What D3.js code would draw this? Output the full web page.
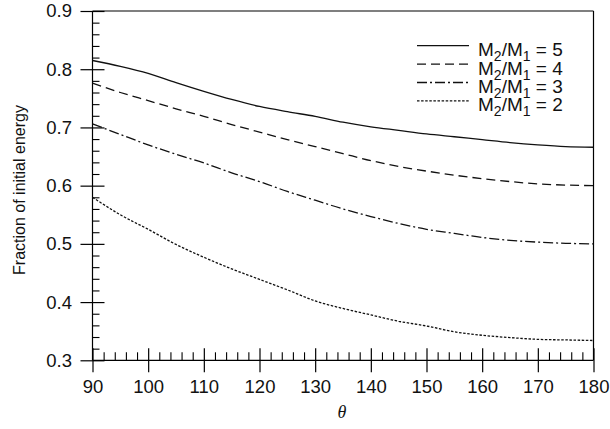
<!DOCTYPE html>
<html>
<head>
<meta charset="utf-8">
<script src="https://cdn.jsdelivr.net/npm/d3@7"></script>
<style>
  html, body { margin: 0; padding: 0; background: #fff; }
  svg { display: block; }
  text { font-family: "Liberation Sans", Arial, Helvetica, sans-serif; fill: #111; }
</style>
</head>
<body>
<svg id="chart" width="610" height="429"></svg>
<script>
// ---- data ----
const theta = [90, 95, 100, 105, 110, 115, 120, 125, 130, 135, 140, 145, 150, 155, 160, 165, 170, 175, 180];
const ratio5 = [0.815, 0.805, 0.793, 0.777, 0.762, 0.748, 0.736, 0.727, 0.719, 0.709, 0.701, 0.695, 0.689, 0.684, 0.679, 0.674, 0.670, 0.667, 0.666];
const ratio4 = [0.776, 0.760, 0.746, 0.732, 0.719, 0.705, 0.692, 0.679, 0.667, 0.655, 0.643, 0.633, 0.625, 0.618, 0.612, 0.607, 0.603, 0.601, 0.600];
const ratio3 = [0.706, 0.688, 0.670, 0.654, 0.639, 0.622, 0.607, 0.590, 0.575, 0.560, 0.547, 0.535, 0.525, 0.518, 0.511, 0.506, 0.503, 0.501, 0.500];
const ratio2 = [0.580, 0.550, 0.525, 0.499, 0.477, 0.457, 0.439, 0.421, 0.402, 0.389, 0.378, 0.367, 0.359, 0.349, 0.343, 0.339, 0.336, 0.335, 0.334];
const seriesNames = ["5", "4", "3", "2"];
const xTicks = [90, 100, 110, 120, 130, 140, 150, 160, 170, 180];
const yTicks = [0.3, 0.4, 0.5, 0.6, 0.7, 0.8, 0.9];
const xTitle = "θ";
const yTitle = "Fraction of initial energy";

// ---- layout ----
const svg = d3.select("#chart");
const L = 92.5, R = 593.5, T = 11, B = 360.3;
const x = d3.scaleLinear().domain([90, 180]).range([L, R]);
const y = d3.scaleLinear().domain([0.3, 0.9]).range([B, T]);

const dashes = ["none", "9,5", "10,3,2,3", "2.5,1.6"];
const seriesVals = [ratio5, ratio4, ratio3, ratio2];

// frame (top and right)
svg.append("line").attr("x1", L).attr("x2", R).attr("y1", T).attr("y2", T)
  .attr("stroke", "#000").attr("stroke-width", 1.2);
svg.append("line").attr("x1", R).attr("x2", R).attr("y1", T).attr("y2", B)
  .attr("stroke", "#000").attr("stroke-width", 1.2);

// minor ticks
const xMinor = d3.range(92, 180, 2).filter(v => v % 10 !== 0);
const yMinor = d3.range(0.32, 0.9, 0.02).filter(v => Math.abs(v * 10 - Math.round(v * 10)) > 1e-6);

const gxMinor = svg.append("g").attr("transform", `translate(0,${B})`)
  .call(d3.axisTop(x).tickValues(xMinor).tickSize(8).tickFormat(""));
const gyMinor = svg.append("g").attr("transform", `translate(${L},0)`)
  .call(d3.axisRight(y).tickValues(yMinor).tickSize(7).tickFormat(""));
[gxMinor, gyMinor].forEach(g => {
  g.select(".domain").remove();
  g.selectAll("line").attr("stroke", "#000").attr("stroke-width", 1.1);
});

// major axes
const gx = svg.append("g").attr("transform", `translate(0,${B})`)
  .call(d3.axisBottom(x).tickValues(xTicks).tickSize(12).tickPadding(8).tickFormat(d3.format("d")));
gx.selectAll(".tick line").attr("y1", -12);
const gy = svg.append("g").attr("transform", `translate(${L},0)`)
  .call(d3.axisLeft(y).tickValues(yTicks).tickSize(12).tickPadding(8.5).tickFormat(d3.format(".1f")));
gy.selectAll(".tick line").attr("x1", 12);
[gx, gy].forEach(g => {
  g.select(".domain").remove();
  g.selectAll("line").attr("stroke", "#000").attr("stroke-width", 1.2);
  g.selectAll("text").style("font-size", "18.5px").attr("fill", "#111")
    .style("font-family", '"Liberation Sans", Arial, sans-serif');
});
svg.append("line").attr("x1", L).attr("x2", R).attr("y1", B).attr("y2", B)
  .attr("stroke", "#000").attr("stroke-width", 1.2);
svg.append("line").attr("x1", L).attr("x2", L).attr("y1", T).attr("y2", B)
  .attr("stroke", "#000").attr("stroke-width", 1.2);

// series
const line = d3.line().x((d, i) => x(theta[i])).y(d => y(d)).curve(d3.curveMonotoneX);
seriesVals.forEach((vals, k) => {
  svg.append("path").datum(vals).attr("d", line)
    .attr("fill", "none").attr("stroke", "#111").attr("stroke-width", 1.3)
    .attr("stroke-dasharray", dashes[k]);
});

// legend
const lg = svg.append("g");
seriesNames.forEach((name, k) => {
  const ly = 45.7 + k * 18.4;
  lg.append("line").attr("x1", 417).attr("x2", 469).attr("y1", ly).attr("y2", ly)
    .attr("stroke", "#111").attr("stroke-width", 1.3).attr("stroke-dasharray", dashes[k]);
  const t = lg.append("text").attr("x", 478).attr("y", ly + 10.5).style("font-size", "19px");
  t.append("tspan").text("M");
  t.append("tspan").attr("dy", 5).style("font-size", "14px").text("2");
  t.append("tspan").attr("dy", -5).text("/M");
  t.append("tspan").attr("dy", 5).style("font-size", "14px").text("1");
  t.append("tspan").attr("dy", -5).text(" = " + name);
});

// axis titles
svg.append("text").attr("x", 342).attr("y", 418).attr("text-anchor", "middle")
  .style("font-family", '"Liberation Serif", "Times New Roman", serif')
  .style("font-style", "italic").style("font-size", "18px").text(xTitle);
svg.append("text").attr("transform", "translate(25,190) rotate(-90)").attr("text-anchor", "middle")
  .style("font-size", "16px").text(yTitle);
</script>
</body>
</html>
